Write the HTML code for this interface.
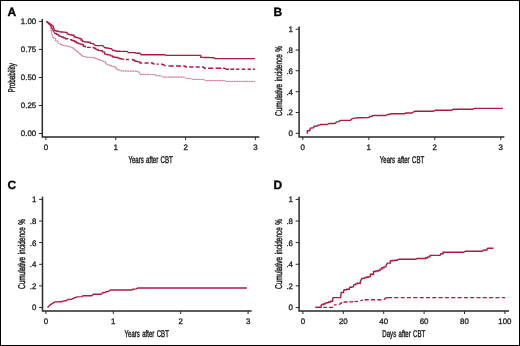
<!DOCTYPE html>
<html><head><meta charset="utf-8"><title>Figure</title>
<style>
html,body{margin:0;padding:0;background:#fff;}
body{width:520px;height:346px;overflow:hidden;position:relative;}
#fig{position:absolute;left:0;top:0;width:520px;height:346px;background:#fff;box-sizing:border-box;border-style:solid;border-color:#000;border-width:1.2px 1.3px 1.8px 1.5px;}
svg{position:absolute;left:0;top:0;display:block;text-rendering:geometricPrecision;}
.tk{font-family:"Liberation Sans",sans-serif;font-size:7.9px;fill:#1c1c1c;stroke:#1c1c1c;stroke-width:0.3px;}
.ti{font-family:"Liberation Sans",sans-serif;font-size:9.8px;fill:#1c1c1c;stroke:#1c1c1c;stroke-width:0.42px;word-spacing:1.1px;}
.pl{font-family:"Liberation Sans",sans-serif;font-size:12px;font-weight:bold;fill:#000;stroke:#000;stroke-width:0.34px;stroke-linejoin:miter;}
</style></head>
<body>
<div id="fig"></div>
<svg width="520" height="346" viewBox="0 0 520 346">
<defs><filter id="soft" x="-5%" y="-5%" width="110%" height="110%"><feGaussianBlur stdDeviation="0.3"/></filter></defs>
<g filter="url(#soft)">
<g id="panel-a">
<text x="7.4" y="16.4" class="pl">A</text>
<path d="M42.3,19.0 V137.0 H259.4" fill="none" stroke="#2a2a2a" stroke-width="1.5" stroke-linejoin="miter"/>
<path d="M38.9,21.4 H42.3 M38.9,49.4 H42.3 M38.9,77.5 H42.3 M38.9,105.5 H42.3 M38.9,133.5 H42.3 M45.9,137.0 V140.0 M115.8,137.0 V140.0 M185.6,137.0 V140.0 M255.4,137.0 V140.0" fill="none" stroke="#2a2a2a" stroke-width="1"/>
<text transform="translate(36.2,24.3) scale(1,1)" text-anchor="end" class="tk">1.00</text>
<text transform="translate(36.2,52.3) scale(1,1)" text-anchor="end" class="tk">0.75</text>
<text transform="translate(36.2,80.4) scale(1,1)" text-anchor="end" class="tk">0.50</text>
<text transform="translate(36.2,108.4) scale(1,1)" text-anchor="end" class="tk">0.25</text>
<text transform="translate(36.2,136.4) scale(1,1)" text-anchor="end" class="tk">0.00</text>
<text transform="translate(45.9,149.8) scale(1,1)" text-anchor="middle" class="tk">0</text>
<text transform="translate(115.8,149.8) scale(1,1)" text-anchor="middle" class="tk">1</text>
<text transform="translate(185.6,149.8) scale(1,1)" text-anchor="middle" class="tk">2</text>
<text transform="translate(255.4,149.8) scale(1,1)" text-anchor="middle" class="tk">3</text>
<text x="150.6" y="162.8" text-anchor="middle" class="ti" textLength="44.3" lengthAdjust="spacingAndGlyphs">Years after CBT</text>
<text transform="translate(15.0,77.8) rotate(-90)" text-anchor="middle" class="ti" textLength="29.5" lengthAdjust="spacingAndGlyphs">Probability</text>
<path d="M46.5,21.4 L50.4,26.0 L51.5,32.3 L53.2,38.1 L55.6,38.1 L55.6,41.0 L57.9,41.0 L57.9,42.2 L59.0,43.9 L60.8,43.9 L60.8,44.8 L62.5,44.8 L62.5,45.6 L64.0,45.6 L64.0,45.8 L65.6,45.8 L65.6,46.0 L67.1,46.0 L67.1,46.2 L68.6,46.2 L68.6,46.7 L70.2,46.7 L70.2,47.1 L71.7,47.1 L71.7,47.6 L73.2,47.6 L73.2,48.8 L74.6,48.8 L74.6,49.9 L76.0,49.9 L76.0,51.0 L77.3,51.0 L77.3,52.2 L78.7,52.2 L78.7,53.3 L80.2,53.3 L80.2,54.6 L81.6,54.6 L81.6,56.0 L83.3,56.0 L83.3,56.5 L85.0,56.5 L85.0,57.1 L86.6,57.1 L86.6,57.2 L88.2,57.2 L88.2,57.3 L89.9,57.3 L89.9,57.5 L91.5,57.5 L91.5,57.6 L93.1,57.6 L93.1,57.7 L94.8,57.7 L94.8,58.4 L96.6,58.4 L96.6,59.1 L98.3,59.1 L98.3,59.8 L100.0,59.8 L100.0,60.4 L101.8,60.4 L101.8,61.1 L103.5,61.1 L103.5,61.8 L105.8,61.8 L105.8,64.1 L107.4,64.1 L107.4,64.7 L108.9,64.7 L108.9,65.2 L110.5,65.2 L110.5,65.8 L112.2,65.8 L112.2,66.4 L113.9,66.4 L113.9,67.0 L116.2,67.0 L116.2,69.3 L117.8,69.3 L117.8,69.9 L119.3,69.9 L119.3,70.4 L120.9,70.4 L120.9,71.0 L122.6,71.0 L122.6,71.0 L124.2,71.0 L124.2,71.0 L125.9,71.0 L125.9,71.1 L127.5,71.1 L127.5,71.1 L129.2,71.1 L129.2,71.1 L130.8,71.1 L130.8,71.1 L132.5,71.1 L132.5,71.2 L134.1,71.2 L134.1,71.2 L135.8,71.2 L135.8,71.2 L137.6,71.2 L137.6,71.9 L139.3,71.9 L139.3,72.6 L139.9,74.3 L141.6,74.3 L141.6,74.3 L143.2,74.3 L143.2,74.3 L144.8,74.3 L144.8,74.4 L146.5,74.4 L146.5,74.4 L148.2,74.4 L148.2,74.4 L149.8,74.4 L149.8,74.5 L151.4,74.5 L151.4,74.5 L153.1,74.5 L153.1,74.5 L155.4,74.5 L155.4,75.7 L156.9,75.7 L156.9,75.7 L158.4,75.7 L158.4,75.8 L160.0,75.8 L160.0,75.8 L161.5,75.8 L161.5,75.8 L163.1,77.1 L184.6,77.1 L186.2,78.5 L190.8,78.5 L192.3,79.4 L193.9,79.4 L193.9,79.4 L195.6,79.4 L195.6,79.4 L197.2,79.4 L197.2,79.4 L198.9,79.4 L198.9,79.5 L200.5,79.5 L200.5,79.5 L202.2,79.5 L202.2,79.5 L203.8,79.5 L203.8,79.5 L205.4,80.6 L224.6,80.6 L226.2,81.4 L254.9,81.4" fill="none" stroke="#e9adbd" stroke-width="1.0" stroke-linejoin="round" />
<path d="M46.5,21.4 L50.4,26.0 L51.5,32.3 L53.2,38.1 L55.6,38.1 L55.6,41.0 L57.9,41.0 L57.9,42.2 L59.0,43.9 L60.8,43.9 L60.8,44.8 L62.5,44.8 L62.5,45.6 L64.0,45.6 L64.0,45.8 L65.6,45.8 L65.6,46.0 L67.1,46.0 L67.1,46.2 L68.6,46.2 L68.6,46.7 L70.2,46.7 L70.2,47.1 L71.7,47.1 L71.7,47.6 L73.2,47.6 L73.2,48.8 L74.6,48.8 L74.6,49.9 L76.0,49.9 L76.0,51.0 L77.3,51.0 L77.3,52.2 L78.7,52.2 L78.7,53.3 L80.2,53.3 L80.2,54.6 L81.6,54.6 L81.6,56.0 L83.3,56.0 L83.3,56.5 L85.0,56.5 L85.0,57.1 L86.6,57.1 L86.6,57.2 L88.2,57.2 L88.2,57.3 L89.9,57.3 L89.9,57.5 L91.5,57.5 L91.5,57.6 L93.1,57.6 L93.1,57.7 L94.8,57.7 L94.8,58.4 L96.6,58.4 L96.6,59.1 L98.3,59.1 L98.3,59.8 L100.0,59.8 L100.0,60.4 L101.8,60.4 L101.8,61.1 L103.5,61.1 L103.5,61.8 L105.8,61.8 L105.8,64.1 L107.4,64.1 L107.4,64.7 L108.9,64.7 L108.9,65.2 L110.5,65.2 L110.5,65.8 L112.2,65.8 L112.2,66.4 L113.9,66.4 L113.9,67.0 L116.2,67.0 L116.2,69.3 L117.8,69.3 L117.8,69.9 L119.3,69.9 L119.3,70.4 L120.9,70.4 L120.9,71.0 L122.6,71.0 L122.6,71.0 L124.2,71.0 L124.2,71.0 L125.9,71.0 L125.9,71.1 L127.5,71.1 L127.5,71.1 L129.2,71.1 L129.2,71.1 L130.8,71.1 L130.8,71.1 L132.5,71.1 L132.5,71.2 L134.1,71.2 L134.1,71.2 L135.8,71.2 L135.8,71.2 L137.6,71.2 L137.6,71.9 L139.3,71.9 L139.3,72.6 L139.9,74.3 L141.6,74.3 L141.6,74.3 L143.2,74.3 L143.2,74.3 L144.8,74.3 L144.8,74.4 L146.5,74.4 L146.5,74.4 L148.2,74.4 L148.2,74.4 L149.8,74.4 L149.8,74.5 L151.4,74.5 L151.4,74.5 L153.1,74.5 L153.1,74.5 L155.4,74.5 L155.4,75.7 L156.9,75.7 L156.9,75.7 L158.4,75.7 L158.4,75.8 L160.0,75.8 L160.0,75.8 L161.5,75.8 L161.5,75.8 L163.1,77.1 L184.6,77.1 L186.2,78.5 L190.8,78.5 L192.3,79.4 L193.9,79.4 L193.9,79.4 L195.6,79.4 L195.6,79.4 L197.2,79.4 L197.2,79.4 L198.9,79.4 L198.9,79.5 L200.5,79.5 L200.5,79.5 L202.2,79.5 L202.2,79.5 L203.8,79.5 L203.8,79.5 L205.4,80.6 L224.6,80.6 L226.2,81.4 L254.9,81.4" fill="none" stroke="#d67891" stroke-width="1.0" stroke-dasharray="1.6 0.9" stroke-linejoin="round" />
<path d="M46.5,21.4 L50.9,25.4 L52.7,30.0 L55.0,33.5 L56.8,33.5 L56.8,34.6 L58.5,34.6 L58.5,35.8 L59.9,35.8 L59.9,36.4 L61.3,36.4 L61.3,37.0 L63.4,37.0 L63.4,37.9 L65.4,37.9 L65.4,38.7 L67.7,38.7 L67.7,39.6 M70.0,39.6 L71.5,39.6 L71.5,40.2 L72.9,40.2 L72.9,40.7 L74.7,40.7 L74.7,41.7 L76.4,41.7 L76.4,42.7 L77.9,42.7 L77.9,43.3 L79.5,43.3 L79.5,43.9 L81.0,43.9 L81.0,44.5 L83.3,44.5 L83.3,46.2 L85.4,46.2 L85.4,47.4 M87.0,47.4 L90.8,47.4 M92.6,47.4 L94.0,47.4 L94.0,48.2 L95.4,48.2 L95.4,49.1 L96.8,49.1 L96.8,49.7 L98.3,49.7 L98.3,50.3 L100.0,50.6 L102.3,50.6 L102.3,51.8 L104.6,51.8 L104.6,54.1 L106.3,54.1 L106.3,54.5 L108.1,54.5 L108.1,54.9 L110.4,54.9 L110.4,55.8 L112.7,55.8 L112.7,57.0 L114.5,57.0 L114.5,57.2 L116.2,57.2 L116.2,57.5 L118.0,57.5 L118.0,58.1 L119.7,58.1 L119.7,58.7 L121.7,58.7 L121.7,59.1 L123.7,59.1 L123.7,59.5 L124.0,59.5 M126.0,59.5 L128.9,59.5 M131.8,59.5 L133.2,59.5 L133.2,60.2 L134.7,60.2 L134.7,61.0 L136.1,61.0 L136.1,61.4 L137.6,61.4 L137.6,61.8 L139.9,61.8 L139.9,63.0 L142.2,63.0 M144.5,63.0 L148.6,63.0 M150.9,63.0 L152.4,63.0 L152.4,63.5 L153.8,63.5 L153.8,64.1 L154.6,64.1 M156.4,64.1 L158.7,64.1 M161.0,64.1 L162.5,64.1 L162.5,64.7 L164.0,64.7 L164.0,65.2 L165.6,66.0 M168.5,66.0 L173.7,66.0 M176.0,66.0 L181.0,66.0 M183.3,66.0 L184.7,66.0 L184.7,66.5 L186.0,66.5 L186.0,67.0 L187.0,67.0 M189.3,67.0 L193.4,67.0 M195.7,67.0 L199.7,67.0 M202.0,67.0 L203.3,67.0 L203.3,67.6 L204.6,67.6 L204.6,68.2 L205.8,68.2 M208.1,68.2 L213.3,68.2 M215.6,68.2 L221.4,68.2 M223.1,68.2 L224.6,68.2 L226.2,69.2 L228.9,69.2 M230.3,69.2 L234.1,69.2 M236.1,69.2 L239.3,69.2 M241.8,69.2 L245.3,69.2 M247.6,69.2 L250.9,69.2 M252.9,69.2 L254.9,69.2" fill="none" stroke="#ac1b41" stroke-width="1.35" stroke-linejoin="round"/>
<path d="M46.5,21.4 L53.2,26.0 L54.4,30.6 L55.9,30.6 L55.9,31.0 L57.5,31.0 L57.5,31.4 L59.0,31.4 L59.0,31.8 L60.9,31.8 L60.9,32.0 L62.9,32.0 L62.9,32.1 L64.8,32.1 L64.8,32.3 L67.1,32.3 L67.1,34.1 L68.6,34.1 L68.6,34.5 L70.2,34.5 L70.2,34.8 L71.7,34.8 L71.7,35.2 L74.1,35.2 L74.1,37.0 L76.0,37.0 L76.0,37.6 L77.9,37.6 L77.9,38.1 L79.8,38.1 L79.8,38.7 L81.2,38.7 L81.2,40.2 L82.7,40.2 L82.7,41.6 L84.4,41.6 L84.4,41.8 L86.2,41.8 L86.2,42.0 L87.9,42.0 L87.9,42.2 L90.2,42.2 L90.2,43.3 L92.0,43.3 L92.0,43.6 L93.7,43.6 L93.7,43.9 L95.4,45.6 L102.9,45.6 L104.6,47.7 L106.3,47.7 L106.3,48.0 L108.1,48.0 L108.1,48.3 L109.8,48.3 L109.8,48.6 L111.6,48.6 L111.6,48.9 L112.7,50.3 L114.5,50.3 L114.5,50.8 L116.2,50.8 L116.2,51.2 L118.0,51.2 L118.0,51.2 L119.9,51.2 L119.9,51.3 L121.7,51.3 L121.7,51.3 L123.5,51.3 L123.5,51.3 L125.4,51.3 L125.4,51.4 L127.2,51.4 L127.2,51.4 L128.3,52.6 L134.7,52.6 L135.8,53.2 L139.9,53.2 L141.0,54.7 L164.6,54.7 L166.2,55.4 L198.5,55.4 L200.8,55.4 L200.8,57.4 L202.4,57.4 L202.4,57.4 L204.1,57.4 L204.1,57.5 L205.7,57.5 L205.7,57.5 L207.3,57.5 L207.3,57.5 L208.9,57.5 L208.9,57.6 L210.6,57.6 L210.6,57.6 L212.2,57.6 L212.2,57.7 L213.8,57.7 L213.8,57.7 L215.4,58.6 L254.9,58.6" fill="none" stroke="#ac1b41" stroke-width="1.35" stroke-linejoin="round" />
</g>
<g id="panel-b">
<text x="273.6" y="16.4" class="pl">B</text>
<path d="M299.1,26.4 V137.0 H504.4" fill="none" stroke="#2a2a2a" stroke-width="1.5" stroke-linejoin="miter"/>
<path d="M295.7,29.2 H299.1 M295.7,50.0 H299.1 M295.7,70.8 H299.1 M295.7,91.7 H299.1 M295.7,112.5 H299.1 M295.7,133.3 H299.1 M302.8,137.0 V140.0 M368.8,137.0 V140.0 M434.8,137.0 V140.0 M500.8,137.0 V140.0" fill="none" stroke="#2a2a2a" stroke-width="1"/>
<text transform="translate(293.0,32.1) scale(1,1)" text-anchor="end" class="tk">1</text>
<text transform="translate(293.0,52.9) scale(1,1)" text-anchor="end" class="tk">.8</text>
<text transform="translate(293.0,73.7) scale(1,1)" text-anchor="end" class="tk">.6</text>
<text transform="translate(293.0,94.6) scale(1,1)" text-anchor="end" class="tk">.4</text>
<text transform="translate(293.0,115.4) scale(1,1)" text-anchor="end" class="tk">.2</text>
<text transform="translate(293.0,136.2) scale(1,1)" text-anchor="end" class="tk">0</text>
<text transform="translate(302.8,149.8) scale(1,1)" text-anchor="middle" class="tk">0</text>
<text transform="translate(368.8,149.8) scale(1,1)" text-anchor="middle" class="tk">1</text>
<text transform="translate(434.8,149.8) scale(1,1)" text-anchor="middle" class="tk">2</text>
<text transform="translate(500.8,149.8) scale(1,1)" text-anchor="middle" class="tk">3</text>
<text x="402" y="162.8" text-anchor="middle" class="ti" textLength="44.3" lengthAdjust="spacingAndGlyphs">Years after CBT</text>
<text transform="translate(281.5,81) rotate(-90)" text-anchor="middle" class="ti" textLength="70" lengthAdjust="spacingAndGlyphs">Cumulative incidence %</text>
<path d="M307.2,133.7 L307.3,130.8 L309.9,130.7 L310.2,128.1 L313.6,127.8 L314.0,126.3 L317.2,126.1 L317.6,125.2 L320.0,125.0 L320.5,124.5 L327.3,124.5 L328.8,123.5 L335.0,123.5 L336.5,121.9 L338.8,121.6 L340.4,120.4 L350.4,120.4 L351.9,118.8 L354.2,118.1 L358.8,117.8 L368.8,117.6 L369.6,116.5 L371.9,116.5 L372.7,115.5 L385.8,115.5 L387.3,114.5 L389.6,114.5 L390.4,113.8 L404.2,113.8 L405.8,113.0 L411.9,113.0 L415.0,111.2 L433.5,111.2 L435.8,110.2 L451.9,110.2 L453.5,109.2 L472.7,109.2 L474.2,108.4 L502.8,108.4" fill="none" stroke="#ac1b41" stroke-width="1.4" stroke-linejoin="round" />
</g>
<g id="panel-c">
<text x="7.4" y="189.3" class="pl">C</text>
<path d="M42.5,196.8 V311.0 H251.6" fill="none" stroke="#2a2a2a" stroke-width="1.5" stroke-linejoin="miter"/>
<path d="M39.1,199.4 H42.5 M39.1,221.0 H42.5 M39.1,242.6 H42.5 M39.1,264.3 H42.5 M39.1,285.9 H42.5 M39.1,307.5 H42.5 M45.9,311.0 V314.0 M113.3,311.0 V314.0 M180.7,311.0 V314.0 M248.1,311.0 V314.0" fill="none" stroke="#2a2a2a" stroke-width="1"/>
<text transform="translate(36.4,202.3) scale(1,1)" text-anchor="end" class="tk">1</text>
<text transform="translate(36.4,223.9) scale(1,1)" text-anchor="end" class="tk">.8</text>
<text transform="translate(36.4,245.5) scale(1,1)" text-anchor="end" class="tk">.6</text>
<text transform="translate(36.4,267.2) scale(1,1)" text-anchor="end" class="tk">.4</text>
<text transform="translate(36.4,288.8) scale(1,1)" text-anchor="end" class="tk">.2</text>
<text transform="translate(36.4,310.4) scale(1,1)" text-anchor="end" class="tk">0</text>
<text transform="translate(45.9,323.7) scale(1,1)" text-anchor="middle" class="tk">0</text>
<text transform="translate(113.3,323.7) scale(1,1)" text-anchor="middle" class="tk">1</text>
<text transform="translate(180.7,323.7) scale(1,1)" text-anchor="middle" class="tk">2</text>
<text transform="translate(248.1,323.7) scale(1,1)" text-anchor="middle" class="tk">3</text>
<text x="146.7" y="336.8" text-anchor="middle" class="ti" textLength="44.3" lengthAdjust="spacingAndGlyphs">Years after CBT</text>
<text transform="translate(24.5,254) rotate(-90)" text-anchor="middle" class="ti" textLength="70" lengthAdjust="spacingAndGlyphs">Cumulative incidence %</text>
<path d="M47.5,307.6 L51.0,304.3 L55.1,301.9 L61.1,301.8 L62.6,301.1 L65.7,300.8 L68.0,299.5 L71.8,299.2 L74.9,297.7 L77.2,296.9 L81.8,296.6 L83.4,295.7 L91.8,295.7 L93.4,294.3 L101.1,294.3 L102.6,292.8 L105.7,292.3 L106.5,291.5 L108.8,291.2 L110.3,290.0 L131.5,290.0 L133.1,289.2 L136.2,288.9 L137.7,288.0 L246.9,288.0" fill="none" stroke="#ac1b41" stroke-width="1.4" stroke-linejoin="round" />
</g>
<g id="panel-d">
<text x="273.6" y="189.2" class="pl">D</text>
<path d="M299.1,196.8 V311.0 H509.0" fill="none" stroke="#2a2a2a" stroke-width="1.5" stroke-linejoin="miter"/>
<path d="M295.7,199.4 H299.1 M295.7,221.0 H299.1 M295.7,242.6 H299.1 M295.7,264.3 H299.1 M295.7,285.9 H299.1 M295.7,307.5 H299.1 M302.9,311.0 V314.0 M343.3,311.0 V314.0 M383.7,311.0 V314.0 M424.1,311.0 V314.0 M464.5,311.0 V314.0 M504.9,311.0 V314.0" fill="none" stroke="#2a2a2a" stroke-width="1"/>
<text transform="translate(293.0,202.3) scale(1,1)" text-anchor="end" class="tk">1</text>
<text transform="translate(293.0,223.9) scale(1,1)" text-anchor="end" class="tk">.8</text>
<text transform="translate(293.0,245.5) scale(1,1)" text-anchor="end" class="tk">.6</text>
<text transform="translate(293.0,267.2) scale(1,1)" text-anchor="end" class="tk">.4</text>
<text transform="translate(293.0,288.8) scale(1,1)" text-anchor="end" class="tk">.2</text>
<text transform="translate(293.0,310.4) scale(1,1)" text-anchor="end" class="tk">0</text>
<text transform="translate(302.9,323.7) scale(1,1)" text-anchor="middle" class="tk">0</text>
<text transform="translate(343.3,323.7) scale(1,1)" text-anchor="middle" class="tk">20</text>
<text transform="translate(383.7,323.7) scale(1,1)" text-anchor="middle" class="tk">40</text>
<text transform="translate(424.1,323.7) scale(1,1)" text-anchor="middle" class="tk">60</text>
<text transform="translate(464.5,323.7) scale(1,1)" text-anchor="middle" class="tk">80</text>
<text transform="translate(504.9,323.7) scale(1,1)" text-anchor="middle" class="tk">100</text>
<text x="403.8" y="336.8" text-anchor="middle" class="ti" textLength="43" lengthAdjust="spacingAndGlyphs">Days after CBT</text>
<text transform="translate(281.5,254) rotate(-90)" text-anchor="middle" class="ti" textLength="70" lengthAdjust="spacingAndGlyphs">Cumulative incidence %</text>
<path d="M315.8,307.4 L321.0,307.4 M323.3,307.4 L326.8,307.4 M329.1,307.4 L333.0,307.4 M333.8,304.9 L336.6,304.9 M338.9,304.6 L341.2,303.2 L341.8,302.2 M343.5,302.0 L347.6,302.0 M349.3,301.9 L353.4,301.7 M354.5,301.6 L358.0,301.4 M360.3,301.0 L362.9,299.9 M364.6,299.7 L368.7,299.7 M371.0,299.7 L375.0,299.7 M377.3,299.7 L381.4,299.7 M383.7,299.7 L386.0,297.9 L387.0,297.6 L392.0,297.6 M394.3,297.6 L398.4,297.6 M400.7,297.6 L404.7,297.6 M407.0,297.6 L411.0,297.6 M413.3,297.6 L417.4,297.6 M419.7,297.6 L423.7,297.6 M426.0,297.6 L430.0,297.6 M432.3,297.6 L436.3,297.6 M438.6,297.6 L442.6,297.6 M444.9,297.6 L448.9,297.6 M451.2,297.6 L455.3,297.6 M457.6,297.6 L461.6,297.6 M463.9,297.6 L467.9,297.6 M470.2,297.6 L474.2,297.6 M476.5,297.6 L480.5,297.6 M482.8,297.6 L486.8,297.6 M489.1,297.6 L493.2,297.6 M495.5,297.6 L499.5,297.6 M501.8,297.6 L505.2,297.6" fill="none" stroke="#ac1b41" stroke-width="1.35" stroke-linejoin="round"/>
<path d="M315.2,307.4 L321.0,307.4 L321.3,304.9 L323.1,304.9 L323.1,304.0 L325.0,304.0 L325.0,303.1 L326.8,303.1 L326.8,302.6 L328.5,302.6 L328.5,302.0 L330.5,302.0 L330.5,301.3 L332.5,301.3 L332.5,300.6 L333.1,297.6 L340.6,297.6 L341.2,292.5 L343.5,292.5 L343.5,291.6 L344.1,289.8 L346.7,289.8 L346.7,289.2 L349.3,289.2 L349.3,288.7 L349.9,287.2 L351.6,287.2 L351.6,286.9 L353.4,286.9 L353.4,286.7 L353.9,284.6 L355.6,284.6 L355.6,283.9 L357.4,283.9 L357.4,283.2 L360.3,283.2 L360.3,282.1 L360.9,280.0 L361.9,278.5 L364.0,278.5 L364.0,277.9 L366.0,277.9 L366.0,277.2 L368.1,277.2 L368.1,276.6 L370.4,276.6 L370.4,274.2 L373.5,274.2 L373.5,271.5 L375.8,271.5 L375.8,271.0 L378.1,271.0 L378.1,270.5 L380.0,270.5 L380.0,269.1 L381.9,269.1 L381.9,267.7 L383.9,267.7 L383.9,266.9 L385.8,266.9 L385.8,266.2 L387.3,263.1 L390.4,263.1 L390.4,260.8 L392.7,260.8 L392.7,260.5 L395.0,260.5 L395.0,260.3 L397.3,260.3 L397.3,260.0 L398.8,259.2 L415.8,259.2 L417.3,258.5 L423.8,258.5 L425.8,258.5 L425.8,257.7 L427.7,257.7 L427.7,256.9 L430.0,256.9 L430.0,255.4 L440.0,255.4 L440.8,253.8 L443.1,253.8 L443.1,252.3 L463.8,252.3 L465.4,251.2 L482.3,251.2 L483.8,250.0 L486.9,250.0 L486.9,249.2 L487.7,248.2 L493.5,248.2" fill="none" stroke="#ac1b41" stroke-width="1.4" stroke-linejoin="miter" stroke-miterlimit="6"/>
</g>
</g>
</svg>
</body></html>
